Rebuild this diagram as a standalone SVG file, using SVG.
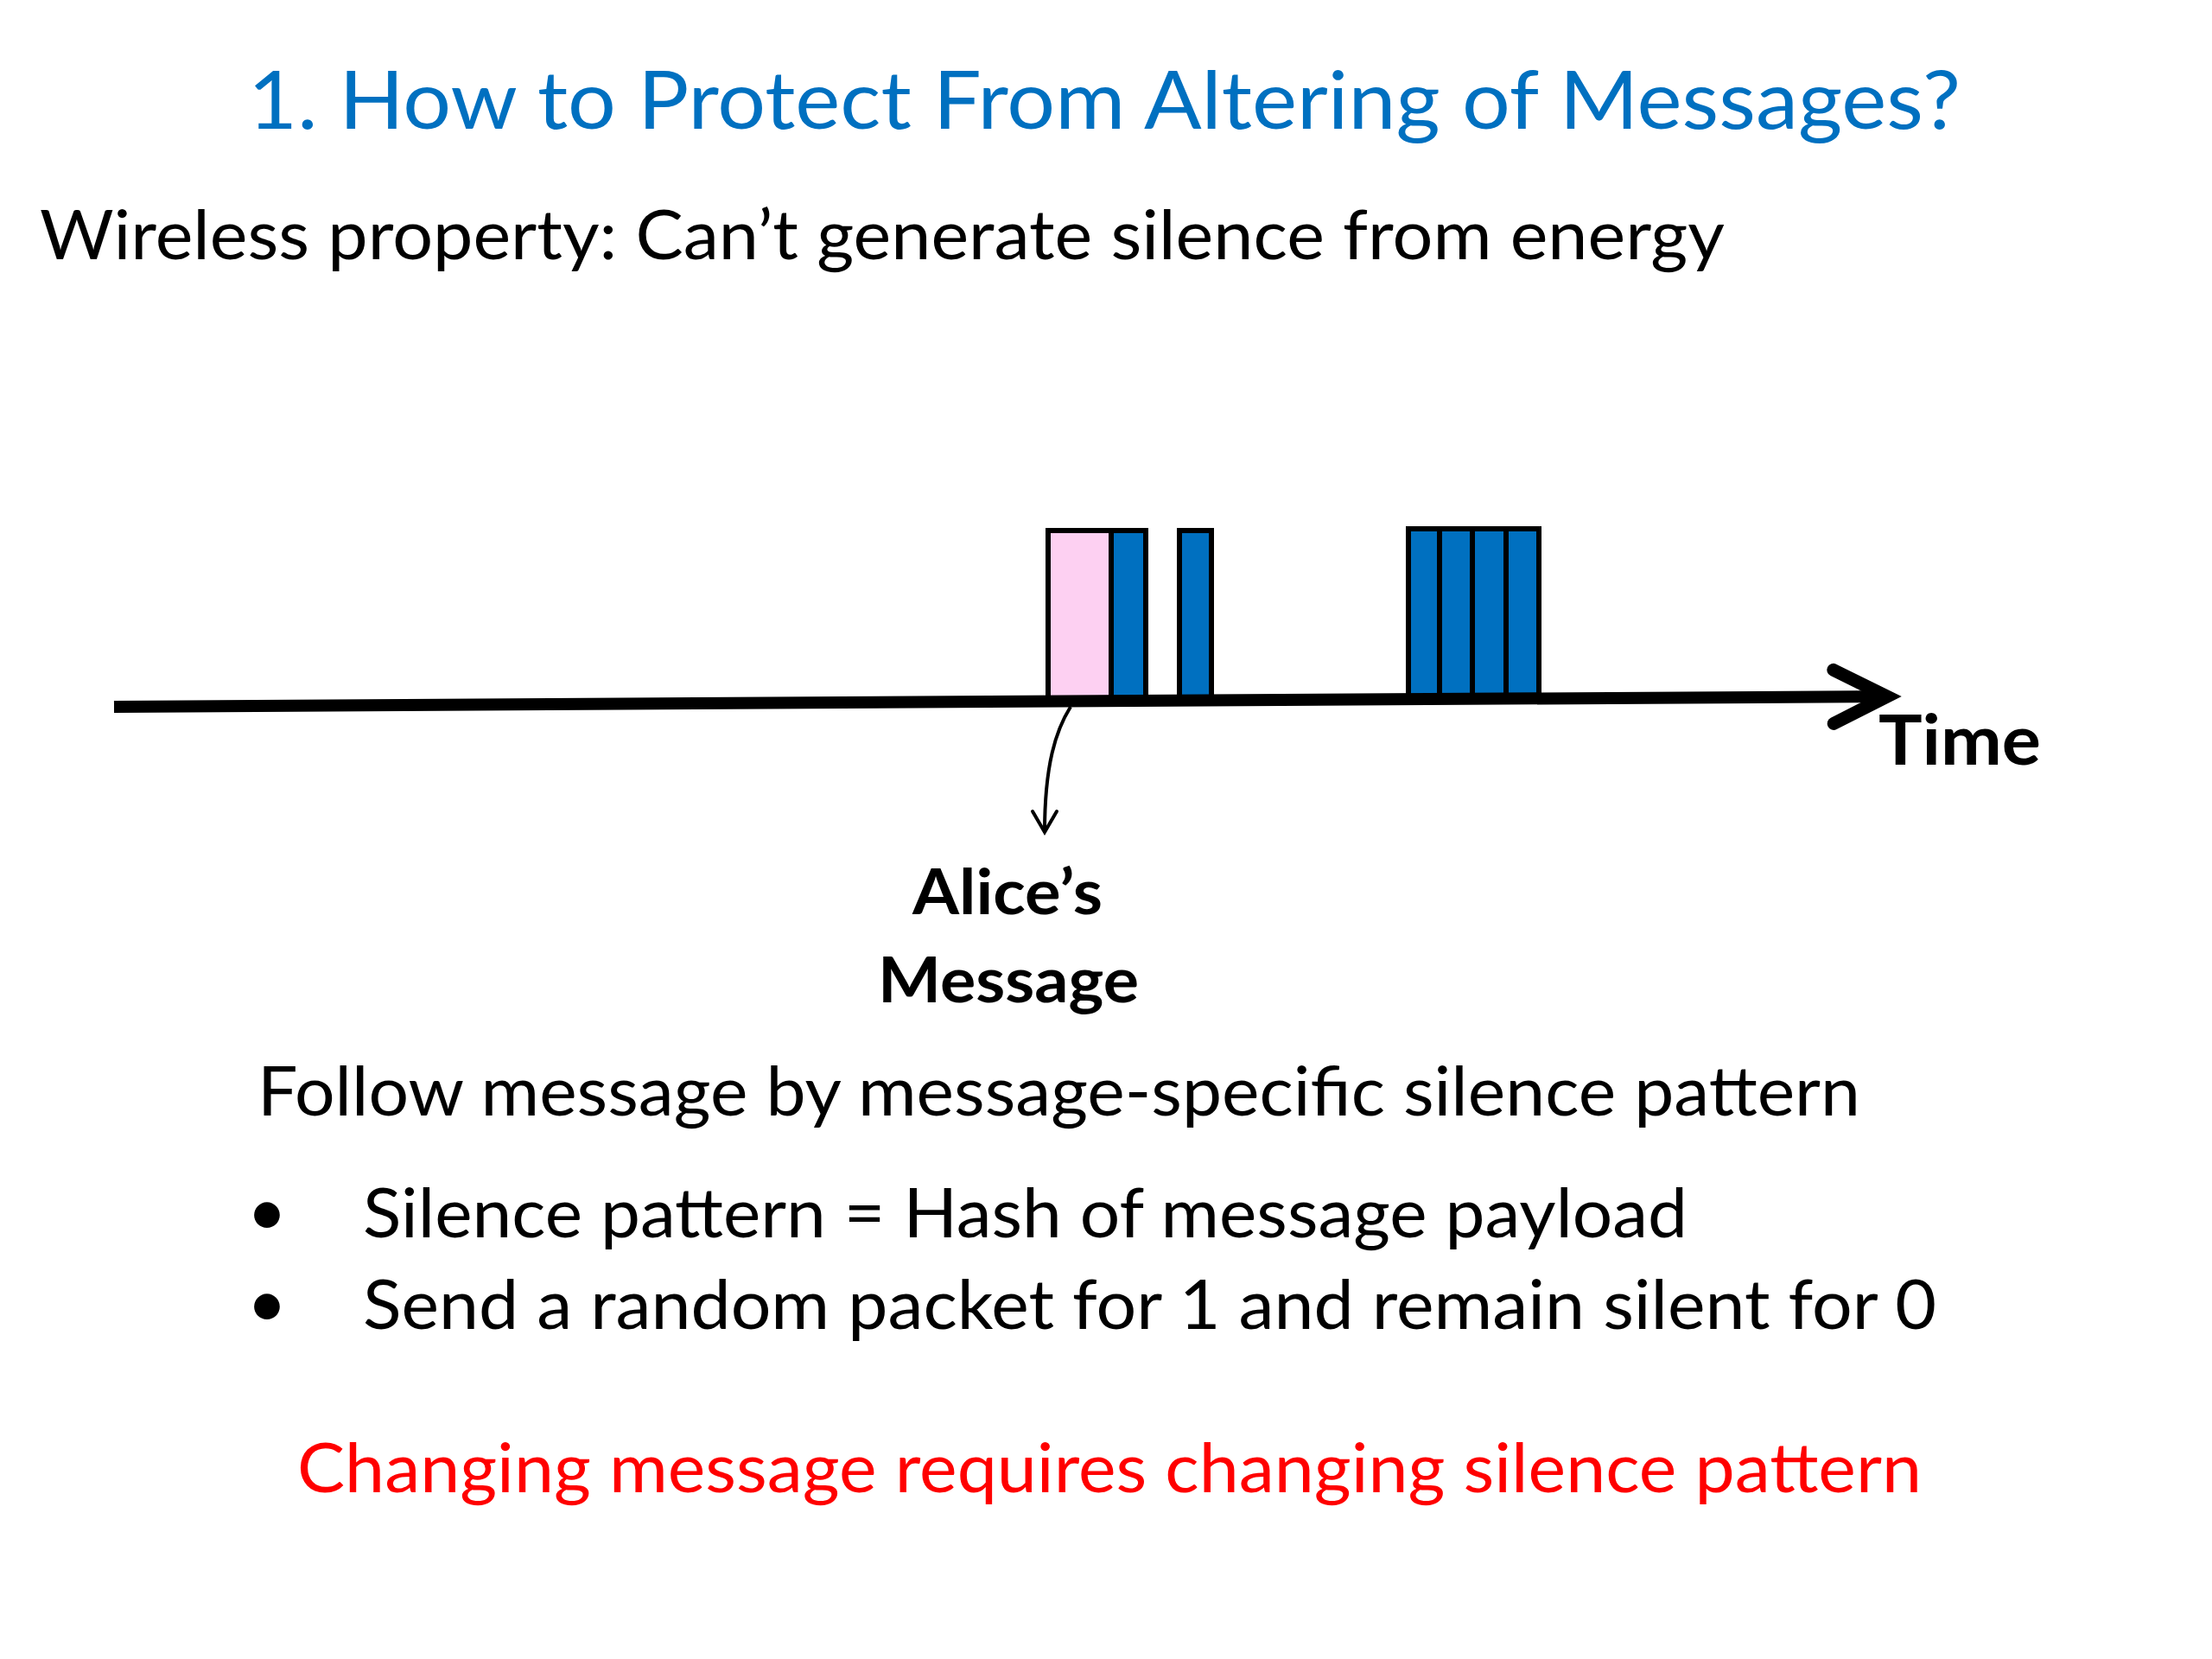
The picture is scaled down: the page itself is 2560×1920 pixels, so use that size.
<svg xmlns="http://www.w3.org/2000/svg" width="2560" height="1920" viewBox="0 0 2560 1920">
<style>
.t{font-family:Lato,"Open Sans","Liberation Sans",sans-serif;}
.title{fill:#0070C0;font-size:94px;}
.body{fill:#000;font-size:80px;}
.bold{fill:#000;font-weight:bold;}
.red{fill:#FF0000;font-size:80px;}
.pkt{fill:#0070C0;stroke:#000;stroke-width:6;}
.msg{fill:#FDD0F2;stroke:#000;stroke-width:6;}
</style>
<defs>
<marker id="bigHead" markerUnits="userSpaceOnUse" orient="auto" refX="0" refY="0" overflow="visible">
<path d="M-64,-31 L-2,0 L-64,31" fill="none" stroke="#000" stroke-width="15" stroke-linecap="round" stroke-linejoin="miter"/>
</marker>
<marker id="smallHead" markerUnits="userSpaceOnUse" orient="auto" refX="0" refY="0" overflow="visible">
<path d="M-24,-14 L0,0 L-24,14" fill="none" stroke="#000" stroke-width="4" stroke-linecap="round" stroke-linejoin="miter"/>
</marker>
</defs>
<rect width="2560" height="1920" fill="#fff"/>
<g id="title"><text class="t title" x="287" y="149" textLength="1982" lengthAdjust="spacingAndGlyphs">1. How to Protect From Altering of Messages?</text></g>
<g id="subtitle"><text class="t body" x="46" y="300" textLength="1950" lengthAdjust="spacingAndGlyphs">Wireless property: Can’t generate silence from energy</text></g>
<g id="packets">
<rect id="alice-msg" class="msg" x="1213" y="614" width="73" height="194"/>
<rect class="pkt" x="1286" y="614" width="40" height="194"/>
<rect class="pkt" x="1365" y="614" width="37" height="194"/>
<rect class="pkt" x="1630" y="612" width="36" height="194"/>
<rect class="pkt" x="1666" y="612" width="38" height="194"/>
<rect class="pkt" x="1704" y="612" width="39" height="194"/>
<rect class="pkt" x="1743" y="612" width="38" height="194"/>
</g>
<g id="connectors" fill="none" stroke="#000">
<path id="time-axis" d="M132,818 L2186,806" stroke-width="14" marker-end="url(#bigHead)"/>
<path id="alice-pointer" d="M1239,818 C1222,845 1209,885 1209,963" stroke-width="4" marker-end="url(#smallHead)"/>
</g>
<g id="label-time"><text class="t bold" x="2174" y="885" font-size="80" textLength="188" lengthAdjust="spacingAndGlyphs">Time</text></g>
<g id="label-alice">
<text class="t bold" x="1166" y="1058" font-size="73" text-anchor="middle" textLength="220" lengthAdjust="spacingAndGlyphs">Alice’s</text>
<text class="t bold" x="1167" y="1160" font-size="73" text-anchor="middle" textLength="302" lengthAdjust="spacingAndGlyphs">Message</text>
</g>
<g id="body-text">
<text class="t body" x="298" y="1291" textLength="1855" lengthAdjust="spacingAndGlyphs">Follow message by message-specific silence pattern</text>
<text class="t body" x="309" y="1430" text-anchor="middle" font-size="72">•</text>
<text class="t body" x="420" y="1432" textLength="1533" lengthAdjust="spacingAndGlyphs">Silence pattern = Hash of message payload</text>
<text class="t body" x="309" y="1536" text-anchor="middle" font-size="72">•</text>
<text class="t body" x="420" y="1538" textLength="1821" lengthAdjust="spacingAndGlyphs">Send a random packet for 1 and remain silent for 0</text>
</g>
<g id="conclusion"><text class="t red" x="344" y="1727" textLength="1880" lengthAdjust="spacingAndGlyphs">Changing message requires changing silence pattern</text></g>
</svg>
